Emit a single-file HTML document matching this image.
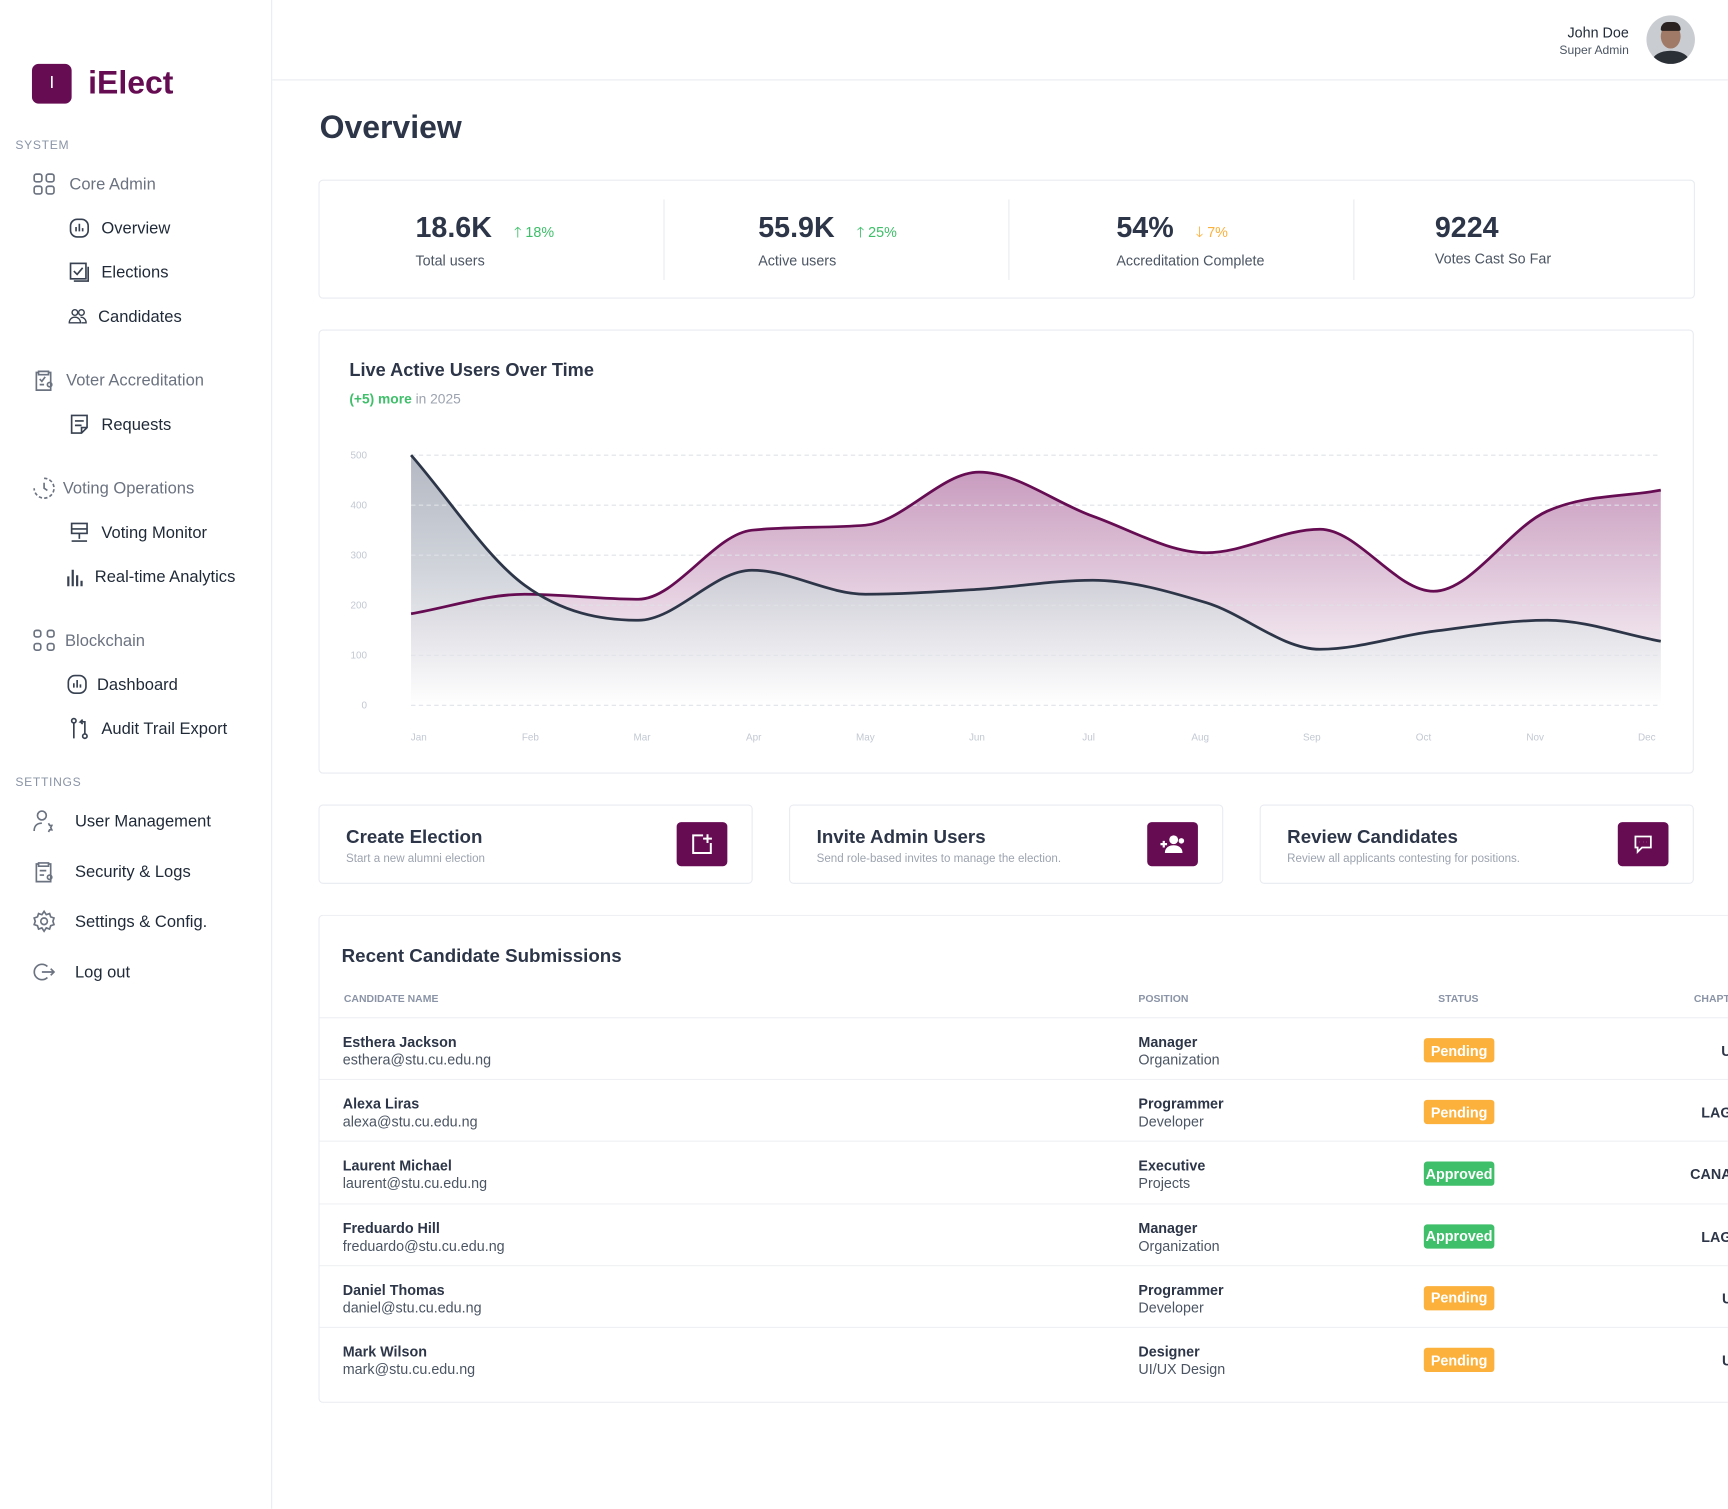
<!DOCTYPE html>
<html><head><meta charset="utf-8">
<style>
*{box-sizing:border-box;margin:0;padding:0}
html,body{width:1728px;height:1509px;overflow:hidden;background:#fff;font-family:"Liberation Sans",sans-serif;color:#2d3648}
#root{position:absolute;left:0;top:0;width:1568px;height:1369px;transform:scale(1.10204);transform-origin:0 0}
.abs{position:absolute}
.side{left:0;top:0;width:247px;height:1369px;border-right:1px solid #e8ebf0}
.sec{font-size:11px;color:#8a94a6;letter-spacing:.6px}
.grp{font-size:15px;color:#6b7280;display:flex;align-items:center}
.it{font-size:15px;color:#1f2937;display:flex;align-items:center}
.ic{width:20px;height:20px;margin-right:10px;fill:none;stroke:#374151;stroke-width:1.5}
.gic{width:22px;height:22px;margin-right:12px;fill:none;stroke:#6b7280;stroke-width:1.5}
.card{border:1px solid #e8ebf0;border-radius:4px;background:#fff}
.sv{font-size:26px;font-weight:bold;color:#2d3648}
.sl{font-size:13px;color:#4b5563}
.act-t{font-size:17px;font-weight:bold;color:#2d3648}
.act-s{font-size:10.5px;color:#9ca3af;margin-top:3px}
.btn{width:46px;height:40px;background:#650c52;border-radius:4px;display:flex;align-items:center;justify-content:center}
.th{font-size:9.5px;font-weight:bold;color:#8a94a6}
.nm{font-size:13px;font-weight:bold;color:#2d3648}
.em{font-size:13px;color:#4b5563;margin-top:1px}
.badge{width:64px;height:22px;border-radius:3px;color:#fff;font-size:13px;font-weight:bold;display:flex;align-items:center;justify-content:center}
.pend{background:#fbb13c}.appr{background:#3fbf6a}
.chap{font-size:13px;font-weight:bold;color:#2d3648;text-align:right;width:200px}
</style></head><body>
<div id="root">
<div class="abs side">
  <div class="abs" style="left:29px;top:58px;width:36px;height:36px;background:#650c52;border-radius:6px;color:#fff;font-size:16px;display:flex;align-items:center;justify-content:center">I</div>
  <div class="abs" style="left:80px;top:58px;font-size:29px;font-weight:bold;color:#650c52;line-height:36px">iElect</div>
  <div class="abs sec" style="left:14px;top:126px">SYSTEM</div>
  <div class="abs grp" style="left:29px;top:156px"><svg class="gic" viewBox="0 0 22 22"><rect x="2" y="2" width="7" height="7" rx="2"/><rect x="13" y="2" width="7" height="7" rx="2"/><rect x="2" y="13" width="7" height="7" rx="2"/><rect x="13" y="13" width="7" height="7" rx="2"/></svg>Core Admin</div>
  <div class="abs it" style="left:62px;top:197px"><svg class="ic" viewBox="0 0 20 20"><rect x="2" y="2" width="16" height="16" rx="6"/><path d="M7 13V9M10 13V6M13 13V10"/></svg>Overview</div>
  <div class="abs it" style="left:62px;top:237px"><svg class="ic" viewBox="0 0 20 20"><rect x="2" y="2" width="14" height="14"/><path d="M5 9l3 3 5-6M18 5v13H5"/></svg>Elections</div>
  <div class="abs it" style="left:62px;top:277px"><svg class="ic" style="width:17px;margin-right:10px" viewBox="0 0 20 20"><circle cx="7" cy="6" r="3"/><circle cx="14" cy="6" r="3"/><path d="M1 17c0-4 3-6 6-6s6 2 6 6zM13 11c3 0 6 2 6 6h-5"/></svg>Candidates</div>
  <div class="abs grp" style="left:29px;top:334px"><svg class="gic" style="margin-right:9px" viewBox="0 0 22 22"><path d="M15 4h2v16H4V4h2M6 3h9v3H6z"/><path d="M7 10l2 2 3-4M7 15h4"/><circle cx="16" cy="15" r="2"/></svg>Voter Accreditation</div>
  <div class="abs it" style="left:62px;top:375px"><svg class="ic" viewBox="0 0 20 20"><path d="M3 2h14v11l-5 5H3zM6 7h8M6 11h6M12 18v-5h5"/></svg>Requests</div>
  <div class="abs grp" style="left:29px;top:432px"><svg class="gic" style="margin-right:6px" viewBox="0 0 22 22"><path d="M11 2a9 9 0 1 1-9 9" stroke-dasharray="3 2"/><path d="M11 6v5l3 2"/></svg>Voting Operations</div>
  <div class="abs it" style="left:62px;top:473px"><svg class="ic" viewBox="0 0 20 20"><rect x="3" y="2" width="14" height="9"/><path d="M3 7h14M10 11v5M3 18h14"/></svg>Voting Monitor</div>
  <div class="abs it" style="left:58px;top:513px"><svg class="ic" viewBox="0 0 20 20" style="margin-right:8px"><path d="M4 19V10M8 19V4M12 19V9M16 19v-5" stroke-width="2"/></svg>Real-time Analytics</div>
  <div class="abs grp" style="left:29px;top:570px"><svg class="gic" style="margin-right:8px" viewBox="0 0 22 22"><rect x="2" y="2" width="6" height="6" rx="2"/><rect x="14" y="2" width="6" height="6" rx="2"/><rect x="2" y="14" width="6" height="6" rx="2"/><rect x="14" y="14" width="6" height="6" rx="2"/></svg>Blockchain</div>
  <div class="abs it" style="left:60px;top:611px"><svg class="ic" style="margin-right:8px" viewBox="0 0 20 20"><rect x="2" y="2" width="16" height="16" rx="6"/><path d="M7 13V9M10 13V6M13 13V10"/></svg>Dashboard</div>
  <div class="abs it" style="left:62px;top:651px"><svg class="ic" viewBox="0 0 20 20"><circle cx="5" cy="3" r="2"/><circle cx="15" cy="17" r="2"/><path d="M5 5v14M15 15V4h-4l2-2M11 4l2 2"/></svg>Audit Trail Export</div>
  <div class="abs sec" style="left:14px;top:704px">SETTINGS</div>
  <div class="abs it" style="left:29px;top:734px"><svg class="gic" style="margin-right:17px" viewBox="0 0 22 22"><circle cx="9" cy="6" r="4"/><path d="M2 20c0-5 3-7 7-7M15 13l1 2 2 0-1 2 1 2-2 0-1 2"/></svg>User Management</div>
  <div class="abs it" style="left:29px;top:780px"><svg class="gic" style="margin-right:17px" viewBox="0 0 22 22"><path d="M15 4h2v16H4V4h2M6 3h9v3H6z"/><path d="M7 10h6M7 14h4"/><circle cx="16" cy="16" r="2"/></svg>Security &amp; Logs</div>
  <div class="abs it" style="left:29px;top:825px"><svg class="gic" style="margin-right:17px" viewBox="0 0 22 22"><circle cx="11" cy="11" r="3"/><path d="M11 2l2 3 3-1 1 3 3 1-1 3 1 3-3 1-1 3-3-1-2 3-2-3-3 1-1-3-3-1 1-3-1-3 3-1 1-3 3 1z"/></svg>Settings &amp; Config.</div>
  <div class="abs it" style="left:29px;top:871px"><svg class="gic" style="margin-right:17px" viewBox="0 0 22 22"><path d="M14 6a7 7 0 1 0 0 10M9 11h11M17 8l3 3-3 3"/></svg>Log out</div>
</div>

<div class="abs" style="left:247px;top:72px;width:1321px;border-top:1px solid #e8ebf0"></div>
<div class="abs" style="right:90px;top:22px;text-align:right"><div style="font-size:13px;color:#1f2937">John Doe</div><div style="font-size:11px;color:#4b5563;margin-top:3px">Super Admin</div></div>
<div class="abs" style="left:1494px;top:14px;width:44px;height:44px;border-radius:50%;background:#c9ccd1;overflow:hidden"><div style="position:absolute;left:13px;top:8px;width:18px;height:22px;border-radius:50%;background:#a07a66"></div><div style="position:absolute;left:13px;top:6px;width:18px;height:8px;border-radius:8px 8px 2px 2px;background:#2a2220"></div><div style="position:absolute;left:5px;top:32px;width:34px;height:20px;border-radius:50% 50% 0 0;background:#2b2f36"></div></div>

<div class="abs" style="left:290px;top:100px;font-size:29px;font-weight:bold;color:#2d3648">Overview</div>

<div class="abs card" style="left:289px;top:163px;width:1249px;height:108px">
  <div class="abs" style="left:312px;top:17px;height:73px;border-left:1px solid #e8ebf0"></div>
  <div class="abs" style="left:625px;top:17px;height:73px;border-left:1px solid #e8ebf0"></div>
  <div class="abs" style="left:938px;top:17px;height:73px;border-left:1px solid #e8ebf0"></div>
  <div class="abs" style="left:87px;top:27px"><span class="sv">18.6K</span><span style="color:#3fbf6a;font-size:13px;margin-left:20px">🡑 18%</span><div class="sl" style="margin-top:5px">Total users</div></div>
  <div class="abs" style="left:398px;top:27px"><span class="sv">55.9K</span><span style="color:#3fbf6a;font-size:13px;margin-left:20px">🡑 25%</span><div class="sl" style="margin-top:5px">Active users</div></div>
  <div class="abs" style="left:723px;top:27px"><span class="sv">54%</span><span style="color:#fbb13c;font-size:13px;margin-left:20px">🡓 7%</span><div class="sl" style="margin-top:5px">Accreditation Complete</div></div>
  <div class="abs" style="left:1012px;top:27px"><span class="sv">9224</span><div class="sl" style="margin-top:5px">Votes Cast So Far</div></div>
</div>

<div class="abs card" style="left:289px;top:299px;width:1248px;height:403px">
  <div class="abs" style="left:27px;top:27px;font-size:16.5px;font-weight:bold;color:#2d3648">Live Active Users Over Time</div>
  <div class="abs" style="left:27px;top:55px;font-size:12.5px;color:#9ca3af"><b style="color:#3fbf6a">(+5) more</b> in 2025</div>
</div>
<svg id="chart" class="abs" style="left:0;top:0" width="1568" height="720">
  <defs>
    <linearGradient id="gp" gradientUnits="userSpaceOnUse" x1="0" y1="413" x2="0" y2="640"><stop offset="0" stop-color="#8a2a75" stop-opacity=".5"/><stop offset="1" stop-color="#8a2a75" stop-opacity="0"/></linearGradient>
    <linearGradient id="gd" gradientUnits="userSpaceOnUse" x1="0" y1="413" x2="0" y2="640"><stop offset="0" stop-color="#a6acb8"/><stop offset=".45" stop-color="#c8ccd4"/><stop offset="1" stop-color="#ffffff"/></linearGradient>
  </defs>
</svg>

<div class="abs card" style="left:289px;top:730px;width:394px;height:72px">
  <div class="abs" style="left:24px;top:19px"><div class="act-t">Create Election</div><div class="act-s">Start a new alumni election</div></div>
  <div class="abs btn" style="left:324px;top:15px"><svg width="22" height="22" viewBox="0 0 22 22" fill="none" stroke="#fff" stroke-width="1.8"><path d="M12 3H3v16h16v-9M16 2v8M12 6h8"/></svg></div>
</div>
<div class="abs card" style="left:716px;top:730px;width:394px;height:72px">
  <div class="abs" style="left:24px;top:19px"><div class="act-t">Invite Admin Users</div><div class="act-s">Send role-based invites to manage the election.</div></div>
  <div class="abs btn" style="left:324px;top:15px"><svg width="24" height="20" viewBox="0 0 24 20" fill="#fff"><circle cx="13" cy="6" r="4"/><path d="M5 18c0-5 4-7 8-7s8 2 8 7z"/><circle cx="20" cy="7" r="2.5"/><path d="M1 10h6M4 7v6" stroke="#fff" stroke-width="2"/></svg></div>
</div>
<div class="abs card" style="left:1143px;top:730px;width:394px;height:72px">
  <div class="abs" style="left:24px;top:19px"><div class="act-t">Review Candidates</div><div class="act-s">Review all applicants contesting for positions.</div></div>
  <div class="abs btn" style="left:324px;top:15px"><svg width="20" height="20" viewBox="0 0 20 20" fill="none" stroke="#fff" stroke-width="1.6"><path d="M3 3h14v10H9l-4 4v-4H3z"/><path d="M7 8h.1M10 8h.1M13 8h.1" stroke-width="2"/></svg></div>
</div>

<div class="abs card" style="left:289px;top:830px;width:1300px;height:443px;border-right:none">
  <div class="abs" style="left:20px;top:27px;font-size:17px;font-weight:bold;color:#2d3648">Recent Candidate Submissions</div>
  <div class="abs th" style="left:22px;top:70px">CANDIDATE NAME</div>
  <div class="abs th" style="left:743px;top:70px">POSITION</div>
  <div class="abs th" style="left:1015px;top:70px">STATUS</div>
  <div class="abs th" style="left:1247px;top:70px">CHAPTER</div>
  <div id="rows"></div>
</div>
</div>
<script>
// chart data
const months=["Jan","Feb","Mar","Apr","May","Jun","Jul","Aug","Sep","Oct","Nov","Dec"];
const purpleSeries=[183,222,212,350,360,466,378,305,352,228,388,430];
const darkSeries=[500,240,170,270,222,232,250,205,112,148,170,128];
const yTicks=[0,100,200,300,400,500];
const svg=document.getElementById('chart');const NS='http://www.w3.org/2000/svg';
const X0=373,X1=1507,Y0=640,Y1=413;
const xs=i=>X0+i*(X1-X0)/(months.length-1);
const ys=v=>Y0-(v/500)*(Y0-Y1);
function mk(t,a){const e=document.createElementNS(NS,t);for(const k in a)e.setAttribute(k,a[k]);svg.appendChild(e);return e;}
function monotone(vals){
  const p=vals.map((v,i)=>[xs(i),ys(v)]);const n=p.length;const d=[],m=[];
  for(let i=0;i<n-1;i++)d.push((p[i+1][1]-p[i][1])/(p[i+1][0]-p[i][0]));
  m[0]=d[0];m[n-1]=d[n-2];
  for(let i=1;i<n-1;i++)m[i]=(d[i-1]*d[i]<=0)?0:(d[i-1]+d[i])/2;
  for(let i=0;i<n-1;i++){if(d[i]===0){m[i]=m[i+1]=0;continue;}const a=m[i]/d[i],b=m[i+1]/d[i],s=a*a+b*b;if(s>9){const t=3/Math.sqrt(s);m[i]=t*a*d[i];m[i+1]=t*b*d[i];}}
  let s='M'+p[0][0]+','+p[0][1];
  for(let i=0;i<n-1;i++){const h=(p[i+1][0]-p[i][0])/3;s+=`C${p[i][0]+h},${p[i][1]+m[i]*h} ${p[i+1][0]-h},${p[i+1][1]-m[i+1]*h} ${p[i+1][0]},${p[i+1][1]}`;}
  return s;
}
const pPath=monotone(purpleSeries),dPath=monotone(darkSeries);
const pa=mk('path',{d:pPath+`L${X1},${Y0}L${X0},${Y0}Z`,fill:'url(#gp)'});


const da=mk('path',{d:dPath+`L${X1},${Y0}L${X0},${Y0}Z`,fill:'url(#gd)','fill-opacity':'0.85'});


yTicks.forEach(t=>{
  const l=mk('line',{x1:X0,x2:X1,y1:ys(t),y2:ys(t),stroke:'#dfe2e7','stroke-dasharray':'4 3'});
  
  
  const tx=mk('text',{x:333,y:ys(t)+3,'text-anchor':'end','font-size':'9','fill':'#c2c8d2','font-family':'Liberation Sans'});tx.textContent=t;
  
  
});
months.forEach((m,i)=>{
  const tx=mk('text',{x:380+i*101.3,y:672,'text-anchor':'middle','font-size':'9','fill':'#c2c8d2','font-family':'Liberation Sans'});tx.textContent=m;
  
  
});
const pl=mk('path',{d:pPath,fill:'none',stroke:'#650c52','stroke-width':2.5});


const dl=mk('path',{d:dPath,fill:'none',stroke:'#2d3648','stroke-width':2.5});


// table
const rowsData=[["Esthera Jackson","esthera@stu.cu.edu.ng","Manager","Organization","Pending","UNN"],["Alexa Liras","alexa@stu.cu.edu.ng","Programmer","Developer","Pending","LAGOS"],["Laurent Michael","laurent@stu.cu.edu.ng","Executive","Projects","Approved","CANAAN"],["Freduardo Hill","freduardo@stu.cu.edu.ng","Manager","Organization","Approved","LAGOS"],["Daniel Thomas","daniel@stu.cu.edu.ng","Programmer","Developer","Pending","USA"],["Mark Wilson","mark@stu.cu.edu.ng","Designer","UI/UX Design","Pending","USA"]];
const rows=document.getElementById('rows');
rowsData.forEach((r,i)=>{
  const top=92+i*56.2;
  const d=document.createElement('div');
  
  
  d.className='abs';d.style.cssText=`left:0;top:${top}px;width:1300px;height:56px;border-top:1px solid #eef0f3`;
  d.innerHTML=`<div class="abs" style="left:21px;top:14px"><div class="nm">${r[0]}</div><div class="em">${r[1]}</div></div>
  <div class="abs" style="left:743px;top:14px"><div class="nm">${r[2]}</div><div class="em">${r[3]}</div></div>
  <div class="abs badge ${r[4]=='Pending'?'pend':'appr'}" style="left:1002px;top:18px">${r[4]}</div>
  <div class="abs chap" style="left:1100px;top:22px">${r[5]}</div>`;
  rows.appendChild(d);
});
</script>
</body></html>
